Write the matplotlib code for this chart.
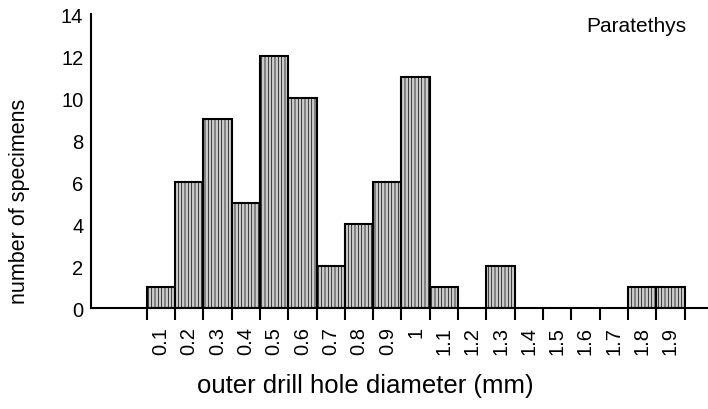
import matplotlib
matplotlib.use("Agg")
import matplotlib.pyplot as plt
import numpy as np

plt.rcParams["font.family"] = ["Liberation Sans", "DejaVu Sans"]
plt.rcParams["hatch.linewidth"] = 0.5
plt.rcParams["hatch.color"] = "#b6b6b6"

# ---- data: specimen counts per 0.1 mm diameter class ----
labels = ["0.1", "0.2", "0.3", "0.4", "0.5", "0.6", "0.7", "0.8", "0.9", "1",
          "1.1", "1.2", "1.3", "1.4", "1.5", "1.6", "1.7", "1.8", "1.9"]
centers = [0.1, 0.2, 0.3, 0.4, 0.5, 0.6, 0.7, 0.8, 0.9, 1.0,
           1.1, 1.2, 1.3, 1.4, 1.5, 1.6, 1.7, 1.8, 1.9]
counts = [1, 6, 9, 5, 12, 10, 2, 4, 6, 11,
          1, 0, 2, 0, 0, 0, 0, 1, 1]
yticks = [0, 2, 4, 6, 8, 10, 12, 14]

fig = plt.figure(figsize=(7.08, 4.10), dpi=100)
ax = fig.add_axes([0.1285, 0.2456, 0.8715, 0.7178])

centers = np.array(centers)
counts = np.array(counts)
has = counts > 0
ax.bar(centers[has], counts[has], width=0.1, color="#cbcbcb",
       edgecolor="black", linewidth=1.5, hatch="|||||", zorder=2)

# tick marks sit on the class edges, labels under the class centres
edges = np.append(centers - 0.05, centers[-1] + 0.05)
ax.set_xticks(edges)
ax.set_xticklabels([])
ax.tick_params(axis="x", direction="out", length=8.5, width=1.5, color="black")
ax.set_xticks(centers, minor=True)
ax.set_xticklabels(labels, minor=True, rotation=90, fontsize=14.5)
ax.tick_params(axis="x", which="minor", length=0, pad=12.5)

ax.set_xlim(-0.147, 2.033)
ax.set_ylim(0, 14)
ax.set_yticks(yticks)
ax.tick_params(axis="y", length=0, pad=5.5, labelsize=14.5)

for side in ["top", "right"]:
    ax.spines[side].set_visible(False)
ax.spines["left"].set_linewidth(1.5)
ax.spines["bottom"].set_linewidth(1.5)
ax.spines["bottom"].set_zorder(3)

fig.text(0.028, 0.51, "number of specimens", rotation=90,
         ha="center", va="center", fontsize=15.5)
fig.text(0.516, 0.058, "outer drill hole diameter (mm)",
         ha="center", va="center", fontsize=18.5)
fig.text(0.970, 0.922, "Paratethys", ha="right", va="baseline", fontsize=15)

fig.savefig("out.png", dpi=100)
